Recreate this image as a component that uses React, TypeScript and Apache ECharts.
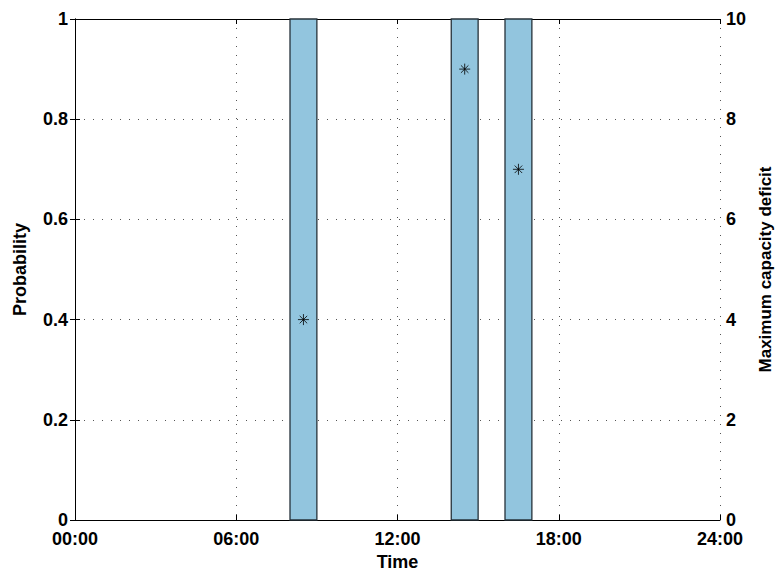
import React, { useEffect, useRef } from "react";
import * as echarts from "echarts";

const hourTicks = ["00:00", "06:00", "12:00", "18:00", "24:00"];
const barStarts = [8, 14, 16];
const barEnds = [9, 15, 17];
const barProbability = [1, 1, 1];
const deficitTimes = [8.5, 14.5, 16.5];
const deficitValues = [4, 9, 7];

const FONT = "Liberation Sans";

export default function App() {
  const ref = useRef<HTMLDivElement>(null);
  useEffect(() => {
    if (!ref.current) return;
    const chart = echarts.init(ref.current, null, { renderer: "svg" });
    const barData = barStarts.map((s, i) => [s, barEnds[i], barProbability[i]]);
    const starData = deficitTimes.map((t, i) => [t, deficitValues[i]]);
    const labelStyle = { color: "#000", fontFamily: FONT, fontWeight: "bold" as const, fontSize: 18 };
    const grid = { left: 75, right: 56, top: 19, bottom: 51, outerBoundsMode: "none", containLabel: false };
    chart.setOption({
      animation: false,
      backgroundColor: "#fff",
      grid,
      xAxis: [
        {
          type: "value",
          min: 0,
          max: 24,
          interval: 6,
          position: "bottom",
          axisLine: { show: true, onZero: false, lineStyle: { color: "#000", width: 1 } },
          axisTick: { show: true, inside: true, length: 5, lineStyle: { color: "#000" } },
          axisLabel: {
            ...labelStyle,
            margin: 12,
            lineHeight: 14,
            formatter: (v: number) => hourTicks[Math.round(v / 6)] ?? "",
          },
          splitLine: { show: true, lineStyle: { color: "#555", type: [1, 8], width: 1 } },
          name: "Time",
          nameLocation: "middle",
          nameGap: 33,
          nameTextStyle: labelStyle,
        },
        {
          type: "value",
          min: 0,
          max: 24,
          interval: 6,
          position: "top",
          axisLine: { show: true, onZero: false, lineStyle: { color: "#000", width: 1 } },
          axisTick: { show: true, inside: true, length: 5, lineStyle: { color: "#000" } },
          axisLabel: { show: false },
          splitLine: { show: false },
        },
      ],
      yAxis: [
        {
          type: "value",
          min: 0,
          max: 1,
          interval: 0.2,
          position: "left",
          axisLine: { show: true, lineStyle: { color: "#000", width: 1 } },
          axisTick: { show: true, inside: true, length: 5, lineStyle: { color: "#000" } },
          axisLabel: {
            ...labelStyle,
            margin: 7,
            lineHeight: 14,
            formatter: (v: number) => String(Math.round(v * 10) / 10),
          },
          splitLine: { show: true, lineStyle: { color: "#555", type: [1, 8], width: 1 } },
          name: "Probability",
          nameLocation: "middle",
          nameGap: 46,
          nameRotate: 90,
          nameTextStyle: labelStyle,
        },
        {
          type: "value",
          min: 0,
          max: 10,
          interval: 2,
          position: "right",
          axisLine: { show: true, lineStyle: { color: "#000", width: 1 } },
          axisTick: { show: true, inside: true, length: 5, lineStyle: { color: "#000" } },
          axisLabel: { ...labelStyle, margin: 6, lineHeight: 14 },
          splitLine: { show: false },
          name: "Maximum capacity deficit",
          nameLocation: "middle",
          nameGap: 37,
          nameRotate: 90,
          nameTextStyle: { ...labelStyle, fontSize: 17, lineHeight: 17 },
        },
      ],
      series: [
        {
          type: "custom",
          xAxisIndex: 0,
          yAxisIndex: 0,
          data: barData,
          renderItem: (params: any, api: any) => {
            const p0 = api.coord([api.value(0), 0]);
            const p1 = api.coord([api.value(1), api.value(2)]);
            return {
              type: "rect",
              shape: { x: p0[0], y: p1[1], width: p1[0] - p0[0], height: p0[1] - p1[1] },
              style: { fill: "#92C5DE", stroke: "#26323a", lineWidth: 1.3 },
            };
          },
          encode: { x: [0, 1], y: 2 },
          z: 2,
        },
        {
          type: "scatter",
          xAxisIndex: 0,
          yAxisIndex: 1,
          data: starData,
          symbol: "path://M5,0L5,10M0,5L10,5M1.6,1.6L8.4,8.4M1.6,8.4L8.4,1.6",
          symbolSize: 11,
          itemStyle: { color: "none", borderColor: "#000", borderWidth: 1 },
          z: 3,
        },
      ],
    });
    return () => chart.dispose();
  }, []);
  return (
    <div
      ref={ref}
      style={{ position: "fixed", left: 0, top: 0, width: 776, height: 571, background: "#fff" }}
    />
  );
}
